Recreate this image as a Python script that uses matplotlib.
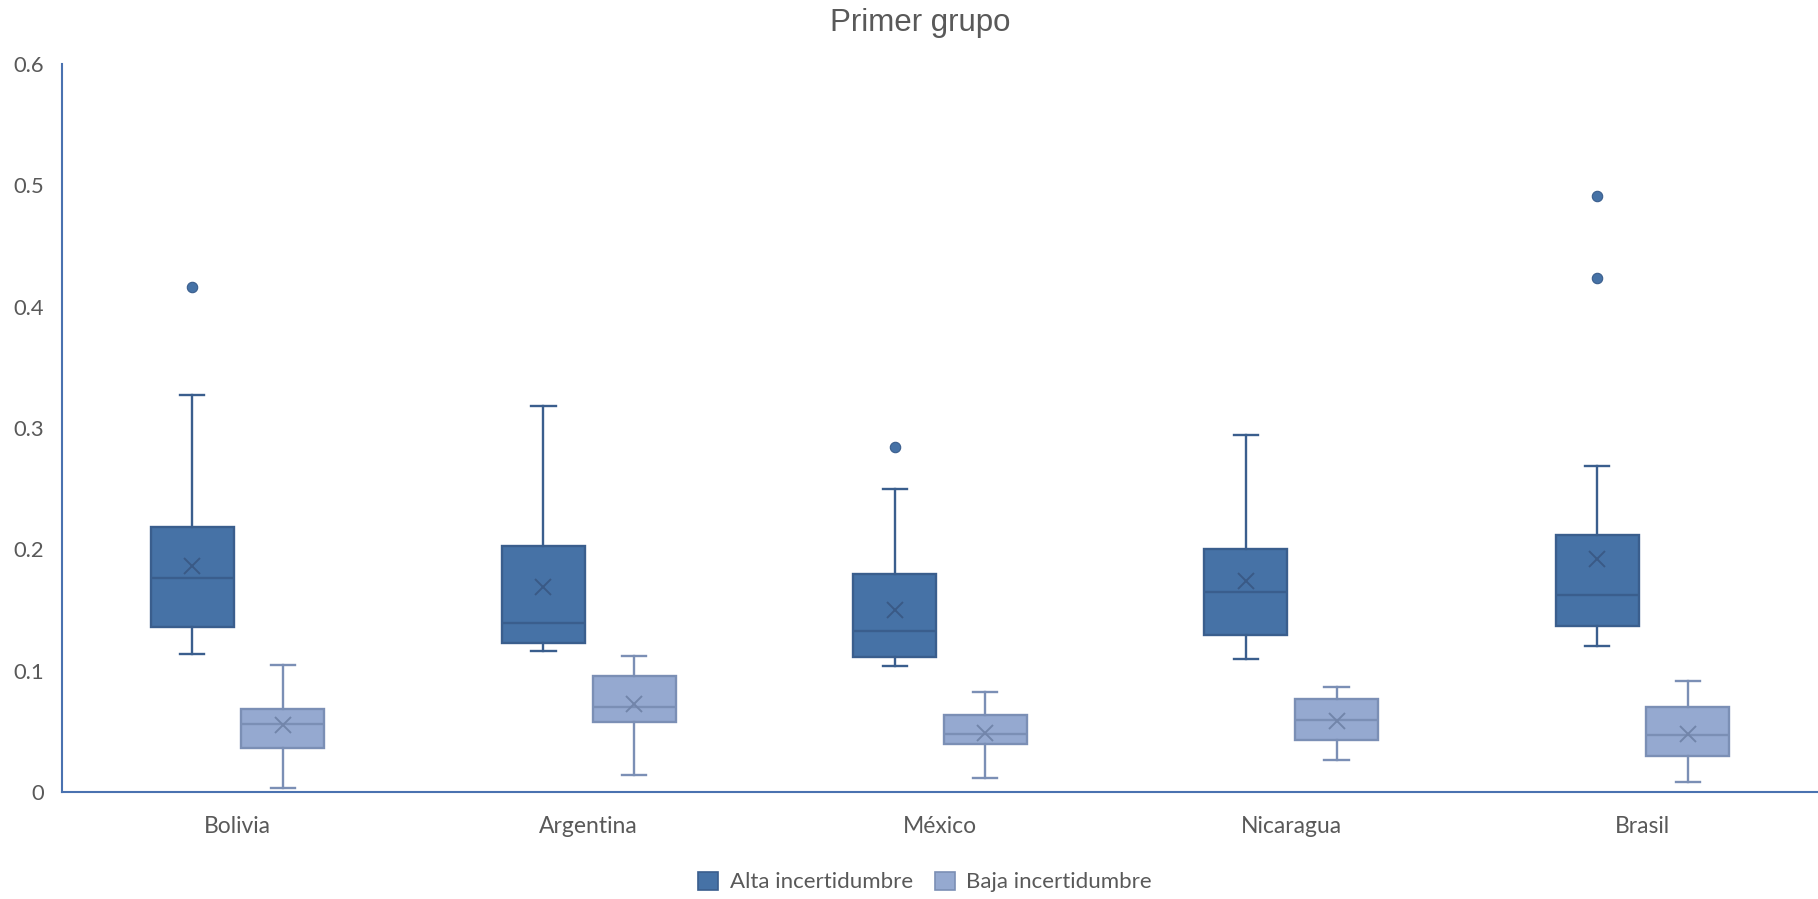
import matplotlib
matplotlib.use("Agg")
import matplotlib.pyplot as plt
from matplotlib.patches import Patch

# Countries on the x axis
categories = ["Bolivia", "Argentina", "México", "Nicaragua", "Brasil"]

# High-uncertainty series: five-number summaries, means and outliers
alta_whislo = [0.114, 0.116, 0.104, 0.110, 0.120]
alta_q1 = [0.136, 0.123, 0.111, 0.129, 0.137]
alta_med = [0.176, 0.139, 0.133, 0.165, 0.162]
alta_q3 = [0.218, 0.2025, 0.180, 0.200, 0.212]
alta_whishi = [0.327, 0.318, 0.250, 0.294, 0.269]
alta_mean = [0.186, 0.169, 0.150, 0.174, 0.192]
alta_fliers = [[0.416], [], [0.284], [], [0.491, 0.424]]

# Low-uncertainty series
baja_whislo = [0.0035, 0.0137, 0.0115, 0.0266, 0.0082]
baja_q1 = [0.036, 0.0574, 0.0396, 0.0429, 0.0299]
baja_med = [0.056, 0.0703, 0.048, 0.0596, 0.0472]
baja_q3 = [0.068, 0.0956, 0.0632, 0.0767, 0.0703]
baja_whishi = [0.105, 0.112, 0.0822, 0.0863, 0.0912]
baja_mean = [0.055, 0.0723, 0.0484, 0.0588, 0.0475]
baja_fliers = [[], [], [], [], []]

series_names = ["Alta incertidumbre", "Baja incertidumbre"]
y_ticks = [0, 0.1, 0.2, 0.3, 0.4, 0.5, 0.6]
title = "Primer grupo"

TEXT = "#595959"
AXIS = "#4a72b0"
ALTA_FILL, ALTA_EDGE, ALTA_MARK = "#4672a6", "#3a5e8d", "#3a5a86"
BAJA_FILL, BAJA_EDGE, BAJA_MARK = "#95a9d0", "#7b8fb5", "#7285aa"

plt.rcParams["font.family"] = ["Lato", "DejaVu Sans"]


def build_stats(lo, q1, med, q3, hi, mean, fliers):
    return [dict(whislo=a, q1=b, med=c, q3=d, whishi=e, mean=f, fliers=g)
            for a, b, c, d, e, f, g in zip(lo, q1, med, q3, hi, mean, fliers)]


fig = plt.figure(figsize=(18.18, 8.99), dpi=100)
ax = fig.add_axes([62 / 1818, 1 - 792 / 899, 1 - 62 / 1818, (792 - 64) / 899])

offset = 0.129
width = 0.236
capw = 0.069
lw = 1.7


def draw(stats, positions, fill, edge, mark):
    ax.bxp(stats, positions=positions, widths=width, capwidths=capw,
           patch_artist=True, showmeans=True, showfliers=True,
           boxprops=dict(facecolor=fill, edgecolor=edge, linewidth=lw),
           medianprops=dict(color=edge, linewidth=lw),
           whiskerprops=dict(color=edge, linewidth=lw),
           capprops=dict(color=edge, linewidth=lw),
           meanprops=dict(marker="x", markersize=12, markeredgecolor=mark,
                          markeredgewidth=1.4, markerfacecolor="none"),
           flierprops=dict(marker="o", markersize=7.5, markerfacecolor=fill,
                           markeredgecolor=edge, markeredgewidth=0.8))


xs = list(range(len(categories)))
draw(build_stats(alta_whislo, alta_q1, alta_med, alta_q3, alta_whishi, alta_mean, alta_fliers),
     [x - offset for x in xs], ALTA_FILL, ALTA_EDGE, ALTA_MARK)
draw(build_stats(baja_whislo, baja_q1, baja_med, baja_q3, baja_whishi, baja_mean, baja_fliers),
     [x + offset for x in xs], BAJA_FILL, BAJA_EDGE, BAJA_MARK)

ax.set_xlim(-0.5, len(categories) - 0.5)
ax.set_ylim(0, 0.6)
ax.set_xticks(xs)
ax.set_xticklabels(categories)
ax.set_yticks(y_ticks)
ax.set_yticklabels(["0" if v == 0 else f"{v:g}" for v in y_ticks])
ax.tick_params(axis="both", length=0, labelcolor=TEXT)
ax.tick_params(axis="y", pad=13, labelsize=15.8)
ax.tick_params(axis="x", pad=17, labelsize=16.5)

for side in ("top", "right"):
    ax.spines[side].set_visible(False)
for side in ("left", "bottom"):
    ax.spines[side].set_color(AXIS)
    ax.spines[side].set_linewidth(1.5)
ax.patch.set_alpha(0)

fig.text(920 / 1818, 1 - 23 / 899, title, ha="center", va="center",
         fontsize=22.5, color=TEXT, family=["Liberation Sans", "DejaVu Sans"])

handles = [Patch(facecolor=ALTA_FILL, edgecolor=ALTA_EDGE, linewidth=1.2),
           Patch(facecolor=BAJA_FILL, edgecolor=BAJA_EDGE, linewidth=1.2)]
fig.legend(handles, series_names, loc="center", ncol=2,
           bbox_to_anchor=(925 / 1818, 1 - 882 / 899), frameon=False,
           fontsize=16, labelcolor=TEXT, handlelength=0.9, handleheight=0.9,
           handletextpad=0.5, columnspacing=1.0, borderpad=0)

fig.savefig("out.png", dpi=100)
